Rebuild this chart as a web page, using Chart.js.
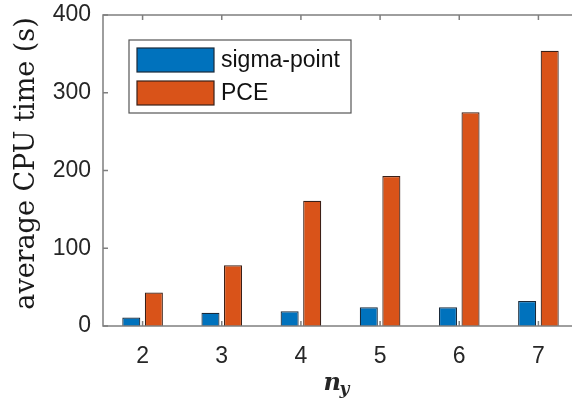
<!DOCTYPE html>
<html lang="en">
<head>
  <meta charset="UTF-8">
  <title>average CPU time</title>
  <script src="https://cdn.jsdelivr.net/npm/chart.js"></script>
  <style>
    html, body { margin: 0; padding: 0; background: #fff; overflow: hidden; }
    #wrap { width: 582px; height: 408px; }
  </style>
</head>
<body>
  <div id="wrap"><canvas id="cpuChart" width="582" height="408"></canvas></div>

  <script>
    // data
    const categories = ['2', '3', '4', '5', '6', '7'];
    const sigmaPoint = [11, 17, 19, 24, 24, 32];
    const pce = [43, 78, 161, 193, 275, 354];
    const yTicks = [0, 100, 200, 300, 400];
    const yTitle = 'average CPU time (s)';

    const axisGrey = '#7f7f7f';
    const textGrey = '#262626';

    // MATLAB style box + inward ticks + legend + axis titles
    const matlabAxes = {
      id: 'matlabAxes',
      afterDatasetsDraw(chart) {
        const { ctx, chartArea: a, scales } = chart;
        const len = 5;
        ctx.save();
        ctx.strokeStyle = axisGrey;
        ctx.lineWidth = 1.5;
        ctx.strokeRect(a.left, a.top, a.right - a.left, a.bottom - a.top);
        ctx.beginPath();
        scales.x.ticks.forEach((t, i) => {
          const x = scales.x.getPixelForTick(i);
          ctx.moveTo(x, a.bottom); ctx.lineTo(x, a.bottom - len);
          ctx.moveTo(x, a.top); ctx.lineTo(x, a.top + len);
        });
        scales.y.ticks.forEach((t, i) => {
          const y = scales.y.getPixelForTick(i);
          ctx.moveTo(a.left, y); ctx.lineTo(a.left + len, y);
          ctx.moveTo(a.right, y); ctx.lineTo(a.right - len, y);
        });
        ctx.stroke();

        // legend
        const lx = a.left + 26, ly = a.top + 25, lw = 222, lh = 73;
        ctx.fillStyle = '#fff';
        ctx.fillRect(lx, ly, lw, lh);
        ctx.lineWidth = 1.2;
        ctx.strokeStyle = '#555';
        ctx.strokeRect(lx, ly, lw, lh);
        ctx.font = '23px "Liberation Sans", Arial, sans-serif';
        ctx.textBaseline = 'middle';
        chart.data.datasets.forEach((ds, i) => {
          const py = ly + 8 + i * 33;
          ctx.fillStyle = ds.backgroundColor;
          ctx.fillRect(lx + 8, py, 77, 24);
          ctx.lineWidth = 1.2;
          ctx.strokeStyle = ds.borderColor;
          ctx.strokeRect(lx + 8, py, 77, 24);
          ctx.fillStyle = '#111';
          ctx.fillText(ds.label, lx + 92, py + 13);
        });

        // y title, rotated
        ctx.save();
        ctx.translate(27, (a.top + a.bottom) / 2 - 7);
        ctx.rotate(-Math.PI / 2);
        ctx.textAlign = 'center';
        ctx.textBaseline = 'middle';
        ctx.fillStyle = '#1a1a1a';
        ctx.font = '27px "DejaVu Serif", serif';
        ctx.fillText(yTitle, 0, 0);
        ctx.restore();

        // x title: n_y
        const cx = (a.left + 560) / 2 + 6;
        ctx.fillStyle = textGrey;
        ctx.textBaseline = 'alphabetic';
        ctx.font = 'italic bold 24px "DejaVu Serif", serif';
        ctx.fillText('n', cx - 14, a.bottom + 64);
        ctx.font = 'italic bold 17px "DejaVu Serif", serif';
        ctx.fillText('y', cx + 2, a.bottom + 68);
        ctx.restore();
      }
    };

    const ctx = document.getElementById('cpuChart').getContext('2d');
    const cpuChart = new Chart(ctx, {
      type: 'bar',
      data: {
        labels: categories,
        datasets: [
          {
            label: 'sigma-point',
            data: sigmaPoint,
            backgroundColor: '#0072BD',
            borderColor: '#1a2a3a',
            borderWidth: 1.2,
            categoryPercentage: 0.57,
            barPercentage: 0.8
          },
          {
            label: 'PCE',
            data: pce,
            backgroundColor: '#D95319',
            borderColor: '#3a2018',
            borderWidth: 1.2,
            categoryPercentage: 0.57,
            barPercentage: 0.8
          }
        ]
      },
      options: {
        responsive: false,
        animation: false,
        devicePixelRatio: 1,
        layout: { padding: { top: 15, right: 4, left: 0, bottom: 0 } },
        plugins: {
          legend: { display: false },
          tooltip: { enabled: false }
        },
        scales: {
          x: {
            grid: { display: false, drawTicks: false },
            border: { display: false },
            ticks: {
              color: textGrey,
              padding: 17,
              font: { family: '"Liberation Sans", Arial, sans-serif', size: 23 }
            },
            afterFit: s => { s.height = 82; s.paddingLeft = 0; s.paddingRight = 0; }
          },
          y: {
            min: 0,
            max: 400,
            afterBuildTicks: s => { s.ticks = yTicks.map(v => ({ value: v })); },
            grid: { display: false, drawTicks: false },
            border: { display: false },
            ticks: {
              color: textGrey,
              padding: 12,
              font: { family: '"Liberation Sans", Arial, sans-serif', size: 23 }
            },
            afterFit: s => { s.width = 103; s.paddingTop = 0; s.paddingBottom = 0; }
          }
        }
      },
      plugins: [matlabAxes]
    });
  </script>
</body>
</html>
